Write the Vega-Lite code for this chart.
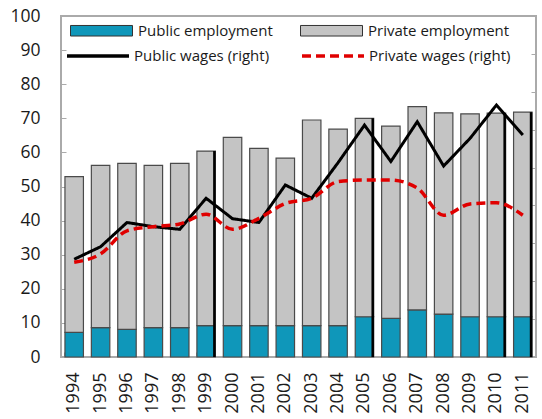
{
  "$schema": "https://vega.github.io/schema/vega-lite/v6.json",
  "width": 475,
  "height": 341,
  "autosize": {"type": "none"},
  "padding": {"left": 61, "top": 16, "right": 6, "bottom": 62},
  "background": "white",
  "config": {
    "font": "Open Sans",
    "view": {"stroke": "#aaaaaa", "strokeWidth": 2},
    "axis": {"labelFont": "Open Sans", "labelColor": "#1a1a1a", "tickColor": "#aaaaaa", "domain": false, "grid": false, "title": null, "labelOverlap": false}
  },
  "data": {
    "values": [
      {"year": "1994", "Public employment": 7.2, "Private employment": 45.7, "Public wages (right)": 25.8, "Private wages (right)": 25.0},
      {"year": "1995", "Public employment": 8.6, "Private employment": 47.6, "Public wages (right)": 29.1, "Private wages (right)": 27.2},
      {"year": "1996", "Public employment": 8.1, "Private employment": 48.7, "Public wages (right)": 35.5, "Private wages (right)": 33.3},
      {"year": "1997", "Public employment": 8.6, "Private employment": 47.6, "Public wages (right)": 34.4, "Private wages (right)": 34.4},
      {"year": "1998", "Public employment": 8.6, "Private employment": 48.2, "Public wages (right)": 33.7, "Private wages (right)": 35.1},
      {"year": "1999", "Public employment": 9.2, "Private employment": 51.2, "Public wages (right)": 41.9, "Private wages (right)": 37.7},
      {"year": "2000", "Public employment": 9.2, "Private employment": 55.2, "Public wages (right)": 36.5, "Private wages (right)": 33.7},
      {"year": "2001", "Public employment": 9.2, "Private employment": 52.0, "Public wages (right)": 35.5, "Private wages (right)": 36.6},
      {"year": "2002", "Public employment": 9.2, "Private employment": 49.1, "Public wages (right)": 45.4, "Private wages (right)": 40.5},
      {"year": "2003", "Public employment": 9.2, "Private employment": 60.3, "Public wages (right)": 41.9, "Private wages (right)": 41.9},
      {"year": "2004", "Public employment": 9.2, "Private employment": 57.6, "Public wages (right)": 51.3, "Private wages (right)": 46.3},
      {"year": "2005", "Public employment": 11.8, "Private employment": 58.2, "Public wages (right)": 61.2, "Private wages (right)": 46.7},
      {"year": "2006", "Public employment": 11.3, "Private employment": 56.4, "Public wages (right)": 51.6, "Private wages (right)": 46.7},
      {"year": "2007", "Public employment": 13.8, "Private employment": 59.6, "Public wages (right)": 62.1, "Private wages (right)": 44.6},
      {"year": "2008", "Public employment": 12.6, "Private employment": 59.0, "Public wages (right)": 50.4, "Private wages (right)": 37.4},
      {"year": "2009", "Public employment": 11.8, "Private employment": 59.5, "Public wages (right)": 57.7, "Private wages (right)": 40.4},
      {"year": "2010", "Public employment": 11.8, "Private employment": 59.7, "Public wages (right)": 66.5, "Private wages (right)": 40.7},
      {"year": "2011", "Public employment": 11.8, "Private employment": 60.0, "Public wages (right)": 58.6, "Private wages (right)": 37.4}
    ]
  },
  "encoding": {
    "x": {
      "field": "year",
      "type": "ordinal",
      "scale": {"paddingInner": 0.3, "paddingOuter": 0.15},
      "axis": {"labelAngle": -90, "labelFontSize": 18, "labelPadding": 20, "tickSize": -5, "bandPosition": 0, "labelAlign": "right", "labelBaseline": "middle"}
    }
  },
  "layer": [
    {
      "transform": [{"fold": ["Public employment", "Private employment"], "as": ["series", "value"]}],
      "layer": [
        {
          "mark": {"type": "bar", "stroke": "#4a4a4a", "strokeWidth": 1.2},
          "encoding": {
            "y": {
              "field": "value",
              "type": "quantitative",
              "stack": "zero",
              "scale": {"domain": [0, 100], "nice": false},
              "axis": {"orient": "left", "values": [0, 10, 20, 30, 40, 50, 60, 70, 80, 90, 100], "labelFontSize": 17.5, "tickSize": -5, "labelPadding": 26, "labelOverlap": false}
            },
            "fill": {
              "field": "series",
              "type": "nominal",
              "scale": {"domain": ["Public employment", "Private employment"], "range": ["#0f97ba", "#c4c4c4"]},
              "legend": {
                "title": null,
                "orient": "none",
                "legendX": 9,
                "legendY": -17,
                "direction": "horizontal",
                "columns": 2,
                "columnPadding": 25,
                "symbolType": "M-1,-0.17H1V0.17H-1Z",
                "symbolSize": 3844,
                "symbolStrokeColor": "#333333",
                "symbolStrokeWidth": 1,
                "labelFontSize": 15,
                "labelColor": "#1a1a1a",
                "labelOffset": 5,
                "labelLimit": 300
              }
            },
            "order": {"field": "series", "sort": "descending"}
          }
        },
        {
          "transform": [
            {"filter": {"field": "year", "oneOf": ["1999", "2005", "2010", "2011"]}},
            {"aggregate": [{"op": "sum", "field": "value", "as": "total"}], "groupby": ["year"]}
          ],
          "mark": {"type": "rule", "color": "#000000", "strokeWidth": 2.5, "xOffset": -1},
          "encoding": {
            "x": {"field": "year", "type": "ordinal", "bandPosition": 1},
            "y": {
              "field": "total",
              "type": "quantitative",
              "axis": {"orient": "left", "values": [0, 10, 20, 30, 40, 50, 60, 70, 80, 90, 100], "labelFontSize": 17.5, "tickSize": -5, "labelPadding": 26, "labelOverlap": false}
            },
            "y2": {"datum": 0}
          }
        }
      ]
    },
    {
      "transform": [{"fold": ["Public wages (right)", "Private wages (right)"], "as": ["wseries", "wage"]}],
      "encoding": {
        "y": {
          "field": "wage",
          "type": "quantitative",
          "scale": {"domain": [0, 90], "nice": false},
          "axis": {"orient": "right", "values": [0, 10, 20, 30, 40, 50, 60, 70, 80, 90], "labels": false, "tickSize": -5}
        },
        "stroke": {
          "field": "wseries",
          "type": "nominal",
          "scale": {"domain": ["Public wages (right)", "Private wages (right)"], "range": ["#000000", "#e00000"]},
          "legend": {
            "title": null,
            "orient": "none",
            "legendX": 4,
            "legendY": 7,
            "direction": "horizontal",
            "columns": 2,
            "columnPadding": 25,
            "symbolType": "stroke",
            "symbolSize": 3844,
            "symbolStrokeWidth": 3.5,
            "labelFontSize": 15,
            "labelColor": "#1a1a1a",
            "labelOffset": 3,
            "labelLimit": 300
          }
        },
        "strokeDash": {
          "field": "wseries",
          "type": "nominal",
          "scale": {"domain": ["Public wages (right)", "Private wages (right)"], "range": [[1, 0], [9, 5]]},
          "legend": null
        }
      },
      "layer": [
        {
          "transform": [{"filter": "datum.wseries === 'Public wages (right)'"}],
          "mark": {"type": "line", "strokeWidth": 3, "interpolate": "linear"}
        },
        {
          "transform": [{"filter": "datum.wseries === 'Private wages (right)'"}],
          "mark": {"type": "line", "strokeWidth": 3.5, "interpolate": "monotone"}
        }
      ]
    }
  ],
  "resolve": {"scale": {"y": "independent"}}
}
